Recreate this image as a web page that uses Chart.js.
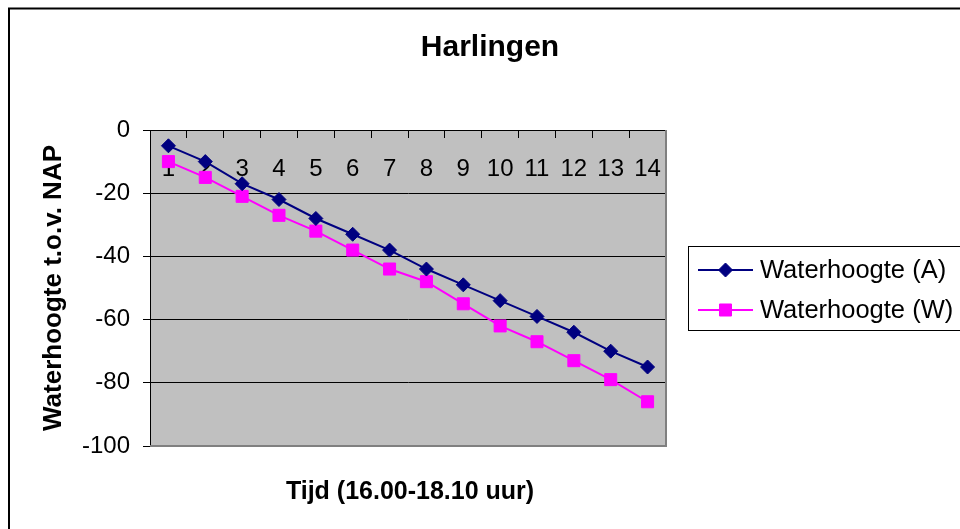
<!DOCTYPE html>
<html>
<head>
<meta charset="utf-8">
<script src="https://cdn.jsdelivr.net/npm/chart.js@4/dist/chart.umd.min.js"></script>
<style>
    html, body { margin: 0; padding: 0; background: #fff; }
    #wrap { width: 960px; height: 529px; }
</style>
</head>
<body>
<div id="wrap"><canvas id="myChart" width="960" height="529"></canvas></div>
<script>
const FONT = "'Liberation Sans', Arial, sans-serif"

const chartTitle = 'Harlingen'
const xTitle = 'Tijd (16.00-18.10 uur)'
const yTitle = 'Waterhoogte t.o.v. NAP'
const timeSteps = ['1', '2', '3', '4', '5', '6', '7', '8', '9', '10', '11', '12', '13', '14']
const waterA = [-5, -10, -17, -22, -28, -33, -38, -44, -49, -54, -59, -64, -70, -75]
const waterW = [-10, -15, -21, -27, -32, -38, -44, -48, -55, -62, -67, -73, -79, -86]
const seriesNames = ['Waterhoogte (A)', 'Waterhoogte (W)']
const yMin = -100
const yMax = 0
const yStep = 20

// excel-like frame: grey plot area, outer border, titles and the boxed legend
const excelFrame = {
    id: 'excelFrame',
    beforeDraw(chart) {
        const { ctx, chartArea: a } = chart
        ctx.save()
        ctx.fillStyle = '#fff'
        ctx.fillRect(0, 0, chart.width, chart.height)
        ctx.fillStyle = '#c0c0c0'
        ctx.fillRect(a.left, a.top, a.right - a.left, a.bottom - a.top)
        ctx.restore()
    },
    beforeDatasetsDraw(chart) {
        const { ctx, chartArea: a } = chart
        ctx.save()
        ctx.strokeStyle = '#808080'
        ctx.lineWidth = 2
        ctx.beginPath()
        ctx.moveTo(a.right, a.top)
        ctx.lineTo(a.right, a.bottom)
        ctx.lineTo(a.left, a.bottom)
        ctx.stroke()
        ctx.restore()
    },
    afterDraw(chart) {
        const { ctx } = chart
        ctx.save()
        // outer border (only top and left are inside the picture)
        ctx.strokeStyle = '#000'
        ctx.lineWidth = 2
        ctx.beginPath()
        ctx.moveTo(chart.width, 8.5)
        ctx.lineTo(9, 8.5)
        ctx.lineTo(9, chart.height)
        ctx.stroke()

        ctx.fillStyle = '#000'
        ctx.textAlign = 'center'
        ctx.textBaseline = 'middle'
        ctx.font = 'bold 30px ' + FONT
        ctx.fillText(chartTitle, 490, 48)
        ctx.font = 'bold 25px ' + FONT
        ctx.fillText(xTitle, 410, 492)

        // legend
        ctx.lineWidth = 1
        ctx.strokeRect(688.5, 246.5, 290, 84)
        chart.data.datasets.forEach((ds, i) => {
            const y = 270 + i * 40
            ctx.strokeStyle = ds.borderColor
            ctx.lineWidth = 2
            ctx.beginPath()
            ctx.moveTo(698, y)
            ctx.lineTo(753, y)
            ctx.stroke()
            ctx.fillStyle = ds.pointBackgroundColor
            ctx.strokeStyle = ds.pointBorderColor
            ctx.lineWidth = 1
            Chart.helpers.drawPoint(ctx, {
                pointStyle: ds.pointStyle,
                radius: ds.pointRadius,
                borderWidth: 1,
                rotation: 0
            }, 725.5, y)
            ctx.fillStyle = '#000'
            ctx.textAlign = 'left'
            ctx.font = '25.5px ' + FONT
            ctx.fillText(ds.label, 760, y + 1)
        })
        ctx.restore()
    }
}

const ctx = document.getElementById('myChart').getContext('2d')
new Chart(ctx, {
    type: 'line',
    data: {
        labels: timeSteps,
        datasets: [
            {
                label: seriesNames[0],
                data: waterA,
                borderColor: '#000080',
                borderWidth: 2,
                pointStyle: 'rectRot',
                pointRadius: 7,
                pointBackgroundColor: '#000080',
                pointBorderColor: '#000080',
                pointBorderWidth: 1,
                tension: 0
            },
            {
                label: seriesNames[1],
                data: waterW,
                borderColor: '#ff00ff',
                borderWidth: 2,
                pointStyle: 'rect',
                pointRadius: 8.5,
                pointBackgroundColor: '#ff00ff',
                pointBorderColor: '#ff00ff',
                pointBorderWidth: 1,
                tension: 0
            }
        ]
    },
    options: {
        responsive: false,
        animation: false,
        layout: { padding: { top: 130, right: 294, bottom: 83, left: 0 } },
        plugins: {
            legend: { display: false },
            title: { display: false },
            tooltip: { enabled: false }
        },
        scales: {
            x: {
                type: 'category',
                position: { y: 0 },
                offset: true,
                z: 1,
                grid: {
                    offset: true,
                    drawOnChartArea: false,
                    tickLength: 7,
                    color: '#000',
                    tickColor: '#000'
                },
                border: { color: '#000', width: 1 },
                ticks: {
                    color: '#000',
                    padding: 18,
                    maxRotation: 0,
                    autoSkip: false,
                    font: { family: FONT, size: 24 }
                }
            },
            y: {
                position: 'left',
                min: yMin,
                max: yMax,
                afterFit(scale) { scale.width = 150 },
                grid: {
                    color: c => (c.tick && c.tick.value === yMin) ? 'rgba(0,0,0,0)' : '#000',
                    tickColor: '#000',
                    tickLength: 7,
                    lineWidth: 1
                },
                border: { color: '#000', width: 1 },
                ticks: {
                    stepSize: yStep,
                    color: '#000',
                    padding: 13,
                    font: { family: FONT, size: 24 }
                },
                title: {
                    display: true,
                    text: yTitle,
                    color: '#000',
                    padding: { top: 38, bottom: 0 },
                    font: { family: FONT, size: 26, weight: 'bold' }
                }
            }
        }
    },
    plugins: [excelFrame]
})
</script>
</body>
</html>
